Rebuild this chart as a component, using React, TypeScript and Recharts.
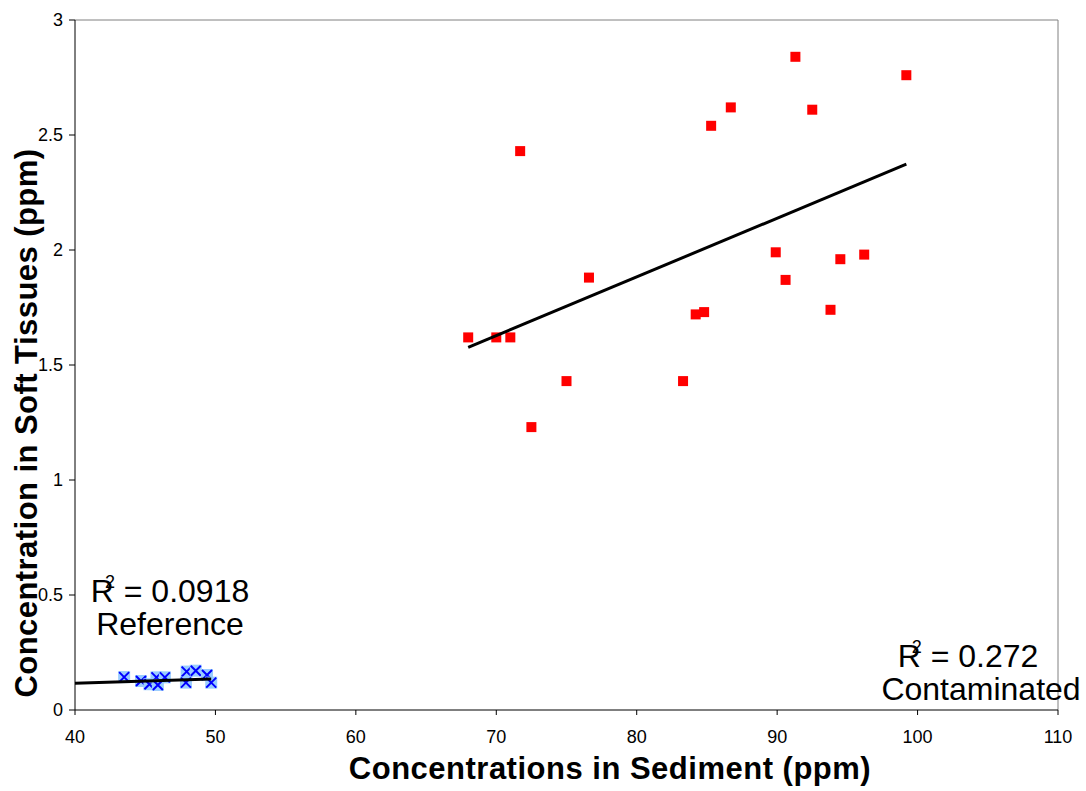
import { ScatterChart, Scatter, XAxis, YAxis, ReferenceLine, Label } from "recharts";

// Contaminated sites (sediment ppm, soft tissue ppm)
const contaminatedX = [91.3, 99.2, 86.7, 92.5, 85.3, 71.7, 89.9, 94.5, 96.2, 76.6, 90.6, 93.8, 84.2, 84.8, 68.0, 70.0, 71.0, 75.0, 83.3, 72.5];
const contaminatedY = [2.84, 2.76, 2.62, 2.61, 2.54, 2.43, 1.99, 1.96, 1.98, 1.88, 1.87, 1.74, 1.72, 1.73, 1.62, 1.62, 1.62, 1.43, 1.43, 1.23];

// Reference sites
const referenceX = [43.5, 44.7, 45.3, 45.8, 46.4, 45.9, 47.95, 48.6, 47.9, 49.4, 49.7];
const referenceY = [0.143, 0.126, 0.112, 0.142, 0.142, 0.109, 0.167, 0.171, 0.119, 0.152, 0.119];

// Linear trend lines (end points)
const contaminatedTrend = [{ x: 68.0, y: 1.577 }, { x: 99.2, y: 2.373 }];
const referenceTrend = [{ x: 40, y: 0.116 }, { x: 49.7, y: 0.135 }];

const xTicks = [40, 50, 60, 70, 80, 90, 100, 110];
const yTicks = [0, 0.5, 1, 1.5, 2, 2.5, 3];

const contaminated = contaminatedX.map((x, i) => ({ x, y: contaminatedY[i] }));
const reference = referenceX.map((x, i) => ({ x, y: referenceY[i] }));

const font = "'Liberation Sans', Arial, sans-serif";

const RedSquare = (props: any) => {
  const { cx, cy } = props;
  return <rect x={cx - 5} y={cy - 5} width={10} height={10} fill="#ff0000" />;
};

const BlueCross = (props: any) => {
  const { cx, cy } = props;
  return (
    <g>
      <rect x={cx - 6} y={cy - 6} width={12} height={12} fill="#99ccff" />
      <path d={`M${cx - 5},${cy - 5}L${cx + 5},${cy + 5}M${cx + 5},${cy - 5}L${cx - 5},${cy + 5}`} stroke="#0000ff" strokeWidth={2} />
    </g>
  );
};

const NoDot = () => <g />;

const XTitle = () => (
  <text x={610} y={779} textAnchor="middle" fontSize={31} fontWeight="bold" letterSpacing={0.5} fontFamily={font} fill="#000">
    Concentrations in Sediment (ppm)
  </text>
);

const YTitle = () => (
  <text x={37} y={423} transform="rotate(-90, 37, 423)" textAnchor="middle" fontSize={31} fontWeight="bold" letterSpacing={0.45} fontFamily={font} fill="#000">
    Concentration in Soft Tissues (ppm)
  </text>
);

const sup = { fontSize: 18, marginLeft: -9, verticalAlign: 14, lineHeight: 0 };

export default function App() {
  return (
    <div style={{ position: "absolute", left: 0, top: 0, width: 1086, height: 791, fontFamily: font }}>
      <ScatterChart width={1086} height={791} margin={{ top: 20, right: 28, left: 0, bottom: 0 }}>
        <XAxis
          type="number"
          dataKey="x"
          domain={[40, 110]}
          ticks={xTicks}
          height={81}
          stroke="#000"
          tickSize={5}
          tickMargin={15}
          tick={{ fill: "#000", fontSize: 18, fontFamily: font }}
        >
          <Label content={XTitle} />
        </XAxis>
        <YAxis
          type="number"
          dataKey="y"
          domain={[0, 3]}
          ticks={yTicks}
          width={75}
          stroke="#000"
          tickSize={6}
          tickMargin={6}
          tick={{ fill: "#000", fontSize: 18, fontFamily: font }}
        >
          <Label content={YTitle} />
        </YAxis>
        <ReferenceLine y={3} stroke="#808080" strokeWidth={1} />
        <ReferenceLine x={110} stroke="#808080" strokeWidth={1} />
        <Scatter data={contaminated} shape={RedSquare} isAnimationActive={false} />
        <Scatter data={reference} shape={BlueCross} isAnimationActive={false} />
        <Scatter data={contaminatedTrend} line={{ stroke: "#000", strokeWidth: 3 }} shape={NoDot} isAnimationActive={false} />
        <Scatter data={referenceTrend} line={{ stroke: "#000", strokeWidth: 3 }} shape={NoDot} isAnimationActive={false} />
      </ScatterChart>
      <div style={{ position: "absolute", left: 40, top: 575, width: 260, textAlign: "center", fontSize: 32, lineHeight: "33px", color: "#000" }}>
        <div>R<sup style={sup}>2</sup> = 0.0918</div>
        <div>Reference</div>
      </div>
      <div style={{ position: "absolute", left: 851, top: 640, width: 260, textAlign: "center", fontSize: 32, lineHeight: "33px", color: "#000" }}>
        <div style={{ paddingRight: 26 }}>R<sup style={sup}>2</sup> = 0.272</div>
        <div>Contaminated</div>
      </div>
    </div>
  );
}
